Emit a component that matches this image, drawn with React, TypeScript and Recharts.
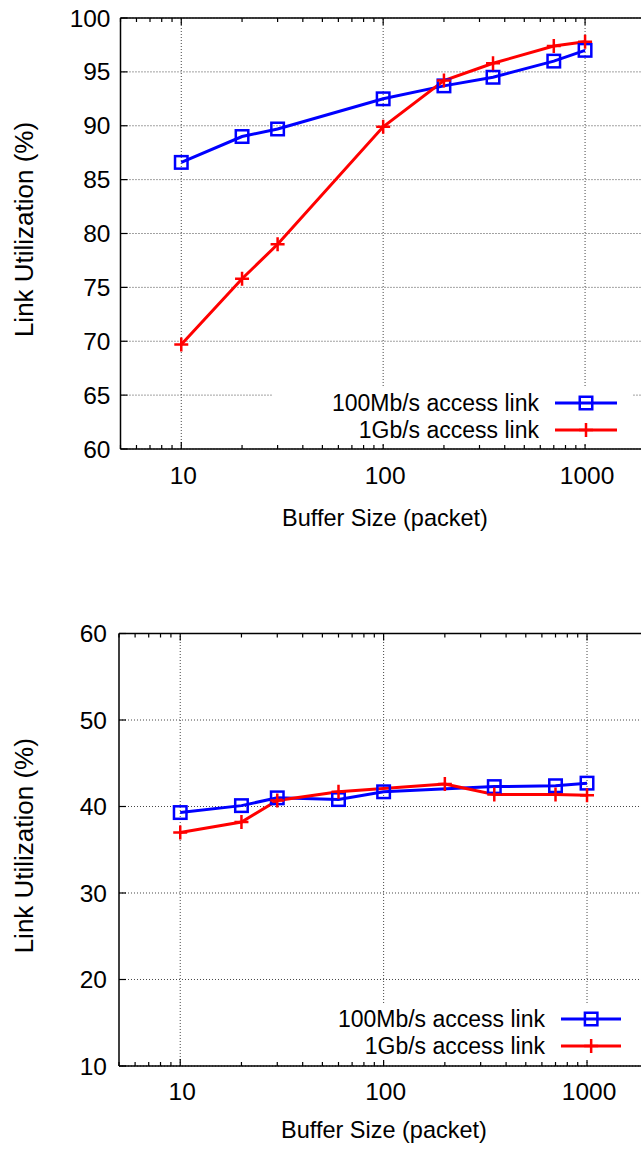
import React from 'react';
import { CartesianGrid, Label, Legend, Line, LineChart, ReferenceLine, XAxis, YAxis } from 'recharts';

const FONT = '"Liberation Sans", Arial, Helvetica, sans-serif';
const BLUE = '#0000ff';
const RED = '#ff0000';
const GRID = '#444';

const seriesNames = ['100Mb/s access link', '1Gb/s access link'];

// buffer size axis (log, 5..5000)
const xDomain: [number, number] = [5, 5000];
const xMajorTicks = [10, 100, 1000];
const xAllTicks = [
  5, 6, 7, 8, 9, 10, 20, 30, 40, 50, 60, 70, 80, 90, 100, 200, 300, 400, 500, 600, 700, 800, 900,
  1000, 2000, 3000, 4000, 5000,
];

// upper plot
const topYTicks = [60, 65, 70, 75, 80, 85, 90, 95, 100];
const topBuffers = [10, 20, 30, 100, 200, 350, 700, 1000];
const topFast = [86.6, 89.0, 89.7, 92.5, 93.7, 94.5, 96.0, 97.0];
const topGig = [69.7, 75.8, 79.0, 89.9, 94.2, 95.8, 97.4, 97.8];

// lower plot
const bottomYTicks = [10, 20, 30, 40, 50, 60];
const bottomFastBuffers = [10, 20, 30, 60, 100, 350, 700, 1000];
const bottomFast = [39.3, 40.1, 41.0, 40.8, 41.7, 42.3, 42.4, 42.7];
const bottomGigBuffers = [10, 20, 30, 60, 200, 350, 700, 1000];
const bottomGig = [37.0, 38.2, 40.7, 41.7, 42.6, 41.4, 41.4, 41.3];

type Pt = { x: number; y: number };
const toPoints = (xs: number[], ys: number[]): Pt[] => xs.map((x, i) => ({ x, y: ys[i] }));

const SquareMark = ({ cx, cy }: { cx: number; cy: number }) => (
  <rect x={cx - 6.25} y={cy - 6.25} width={12.5} height={12.5} fill="none" stroke={BLUE} strokeWidth={2.5} />
);

const PlusMark = ({ cx, cy }: { cx: number; cy: number }) => (
  <path
    d={`M${cx - 7},${cy}H${cx + 7}M${cx},${cy - 7}V${cy + 7}`}
    stroke={RED}
    strokeWidth={2.5}
    fill="none"
  />
);

const renderSquare = (p: any) =>
  p.cx == null ? <g key={`s${p.index}`} /> : <SquareMark key={`s${p.index}`} cx={p.cx} cy={p.cy} />;
const renderPlus = (p: any) =>
  p.cx == null ? <g key={`p${p.index}`} /> : <PlusMark key={`p${p.index}`} cx={p.cx} cy={p.cy} />;

// inward tick marks, labels only on decades
const XTick = (props: any) => {
  const { x, y, payload, side, labelDy } = props;
  const v = payload.value as number;
  const major = xMajorTicks.includes(v);
  const len = major ? 7 : 4;
  const dir = side === 'top' ? 1 : -1;
  return (
    <g>
      <line x1={x} x2={x} y1={y} y2={y + dir * len} stroke="#000" strokeWidth={1.2} />
      {major && side !== 'top' && (
        <text x={x + 2} y={y + labelDy} dy="0.35em" textAnchor="middle" fontFamily={FONT} fontSize={24.5} fill="#000">
          {v}
        </text>
      )}
    </g>
  );
};

const YTick = (props: any) => {
  const { x, y, payload, gap } = props;
  return (
    <g>
      <line x1={x} x2={x + 7} y1={y} y2={y} stroke="#000" strokeWidth={1.2} />
      <text x={x - gap} y={y} dy="0.35em" textAnchor="end" fontFamily={FONT} fontSize={24.5} fill="#000">
        {payload.value}
      </text>
    </g>
  );
};

interface LegendCfg {
  left: number;
  top: number;
  width: number;
  height: number;
  textWidth: number;
  gap: number;
  lineWidth: number;
  fontSize: number;
}

const LegendBox = ({ payload, cfg }: { payload?: any[]; cfg: LegendCfg }) => (
  <div style={{ paddingTop: 2, fontFamily: FONT, fontSize: cfg.fontSize, color: '#000' }}>
    {(payload ?? []).map((it, i) => {
      const mid = cfg.lineWidth / 2;
      return (
        <div key={i} style={{ display: 'flex', alignItems: 'center', height: 26.7 }}>
          <span style={{ width: cfg.textWidth, textAlign: 'right', lineHeight: '26.7px', whiteSpace: 'nowrap' }}>
            {it.value}
          </span>
          <svg width={cfg.lineWidth} height={20} style={{ marginLeft: cfg.gap, display: 'block' }}>
            <line x1={0} x2={cfg.lineWidth} y1={10} y2={10} stroke={it.color} strokeWidth={3} />
            {it.value === seriesNames[0] ? <SquareMark cx={mid} cy={10} /> : <PlusMark cx={mid} cy={10} />}
          </svg>
        </div>
      );
    })}
  </div>
);

interface PanelProps {
  top: number;
  plotLeft: number;
  plotTop: number;
  plotWidth: number;
  plotHeight: number;
  yDomain: [number, number];
  yTicks: number[];
  fast: Pt[];
  gig: Pt[];
  yLabelGap: number;
  xTickDy: number;
  xLabelX: number;
  xLabelDy: number;
  legend: LegendCfg;
}

function Panel(p: PanelProps) {
  const axisH = 90;
  const width = p.plotLeft + p.plotWidth;
  const height = p.plotTop + p.plotHeight + axisH;
  const frame = { stroke: '#000', strokeWidth: 1.5 };
  return (
    <div style={{ position: 'absolute', left: 0, top: p.top }}>
      <LineChart width={width} height={height} margin={{ top: 0, right: 0, bottom: 0, left: 0 }}>
        <CartesianGrid xAxisId="x" vertical={false} stroke={GRID} strokeDasharray="1 2" />
        <XAxis
          xAxisId="x"
          dataKey="x"
          type="number"
          scale="log"
          domain={xDomain}
          allowDataOverflow
          ticks={xAllTicks}
          interval={0}
          height={axisH}
          tickSize={0}
          tickMargin={0}
          tickLine={false}
          axisLine={frame}
          tick={(t: any) => <XTick {...t} side="bottom" labelDy={p.xTickDy} />}
        >
          <Label
            content={(lp: any) => (
              <text
                x={p.xLabelX}
                y={(lp.viewBox?.y ?? p.plotTop + p.plotHeight) + p.xLabelDy}
                dy="0.35em"
                textAnchor="middle"
                fontFamily={FONT}
                fontSize={23.5}
                fill="#000"
              >
                Buffer Size (packet)
              </text>
            )}
          />
        </XAxis>
        <XAxis
          xAxisId="top"
          orientation="top"
          dataKey="x"
          type="number"
          scale="log"
          domain={xDomain}
          allowDataOverflow
          ticks={xAllTicks}
          interval={0}
          height={p.plotTop}
          tickSize={0}
          tickMargin={0}
          tickLine={false}
          axisLine={frame}
          tick={(t: any) => <XTick {...t} side="top" labelDy={0} />}
        />
        <YAxis
          type="number"
          domain={p.yDomain}
          ticks={p.yTicks}
          interval={0}
          width={p.plotLeft}
          tickSize={0}
          tickMargin={0}
          tickLine={false}
          axisLine={frame}
          tick={(t: any) => <YTick {...t} gap={p.yLabelGap} />}
        >
          <Label
            content={() => {
              const cx = 24;
              const cy = p.plotTop + p.plotHeight / 2 - 4;
              return (
                <text
                  x={cx}
                  y={cy}
                  dy="0.35em"
                  textAnchor="middle"
                  transform={`rotate(-90 ${cx} ${cy})`}
                  fontFamily={FONT}
                  fontSize={26}
                  fill="#000"
                >
                  Link Utilization (%)
                </text>
              );
            }}
          />
        </YAxis>
        {xMajorTicks.map(v => (
          <ReferenceLine key={v} xAxisId="x" x={v} stroke={GRID} strokeDasharray="1 2" />
        ))}
        <Line
          xAxisId="x"
          data={p.fast}
          dataKey="y"
          name={seriesNames[0]}
          type="linear"
          stroke={BLUE}
          strokeWidth={3}
          dot={renderSquare}
          activeDot={false}
          isAnimationActive={false}
        />
        <Line
          xAxisId="x"
          data={p.gig}
          dataKey="y"
          name={seriesNames[1]}
          type="linear"
          stroke={RED}
          strokeWidth={3}
          dot={renderPlus}
          activeDot={false}
          isAnimationActive={false}
        />
        <Legend
          layout="horizontal"
          verticalAlign="middle"
          align="center"
          wrapperStyle={{
            left: p.legend.left,
            top: p.legend.top,
            width: p.legend.width,
            height: p.legend.height,
            background: '#fff',
          }}
          content={(lp: any) => <LegendBox payload={lp.payload} cfg={p.legend} />}
        />
      </LineChart>
    </div>
  );
}

export default function App() {
  return (
    <div
      style={{
        position: 'fixed',
        left: 0,
        top: 0,
        width: 641,
        height: 1149,
        overflow: 'hidden',
        background: '#fff',
      }}
    >
      <Panel
        top={0}
        plotLeft={120.5}
        plotTop={18}
        plotWidth={605.7}
        plotHeight={431}
        yDomain={[60, 100]}
        yTicks={topYTicks}
        fast={toPoints(topBuffers, topFast)}
        gig={toPoints(topBuffers, topGig)}
        yLabelGap={10}
        xTickDy={26}
        xLabelX={385}
        xLabelDy={69}
        legend={{ left: 273, top: 388, width: 359, height: 56, textWidth: 266, gap: 16, lineWidth: 62, fontSize: 23 }}
      />
      <Panel
        top={600}
        plotLeft={119}
        plotTop={33.5}
        plotWidth={610.2}
        plotHeight={432.5}
        yDomain={[10, 60]}
        yTicks={bottomYTicks}
        fast={toPoints(bottomFastBuffers, bottomFast)}
        gig={toPoints(bottomGigBuffers, bottomGig)}
        yLabelGap={12}
        xTickDy={25.5}
        xLabelX={384}
        xLabelDy={64}
        legend={{ left: 270, top: 404, width: 365, height: 56, textWidth: 275, gap: 15.7, lineWidth: 60.3, fontSize: 23 }}
      />
    </div>
  );
}
